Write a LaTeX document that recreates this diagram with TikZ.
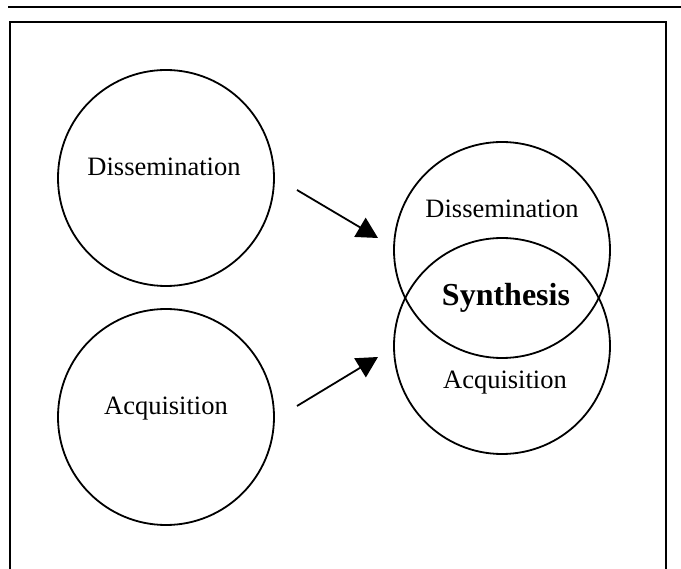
\documentclass[tikz,border=0pt]{standalone}
\usepackage{fontspec}
\setmainfont{Liberation Serif}
\usetikzlibrary{arrows.meta}
\begin{document}
\begin{tikzpicture}[x=1pt,y=-1pt,
  ring/.style={circle,draw,line width=1.8pt,minimum size=216pt,inner sep=0pt},
  word/.style={font=\fontsize{26.5}{30}\selectfont,inner sep=0pt},
  bigword/.style={font=\fontsize{32}{36}\selectfont\bfseries,inner sep=0pt},
  flow/.style={line width=1.8pt,-{Triangle[length=21pt,width=22pt]}},
  rule/.style={line width=2.4pt}]
\useasboundingbox (0,0) rectangle (681,569);
% page rule and frame
\draw[rule] (8,7) -- (681,7);
\draw[rule] (10,575) -- (10,22) -- (666,22) -- (666,575);
% separate circles
\node[ring] (dis) at (166,178) {};
\node[ring] (acq) at (166,417) {};
\node[word] (disT) at (164,167) {Dissemination};
\node[word] (acqT) at (166,409) {Acquisition};
% overlapping circles
\node[ring] (dis2) at (502,250) {};
\node[ring] (acq2) at (502,346) {};
\node[word] (dis2T) at (502,209) {Dissemination};
\node[bigword] (syn) at (506,298) {Synthesis};
\node[word] (acq2T) at (505,383) {Acquisition};
% arrows
\coordinate (a1s) at (297,190);
\coordinate (a1e) at (378,238);
\coordinate (a2s) at (297,406);
\coordinate (a2e) at (378,357);
\draw[flow] (a1s) -- (a1e);
\draw[flow] (a2s) -- (a2e);
\end{tikzpicture}
\end{document}
